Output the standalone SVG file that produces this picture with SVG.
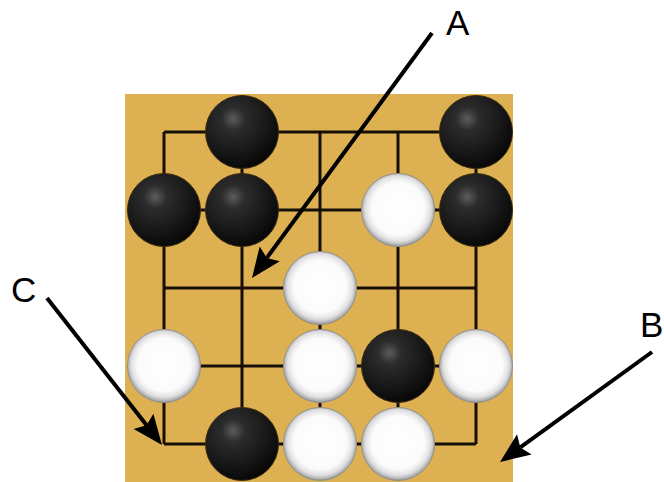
<svg xmlns="http://www.w3.org/2000/svg" width="664" height="482" viewBox="0 0 664 482">
<defs>
<radialGradient id="gb" cx="0.38" cy="0.32" r="0.72">
<stop offset="0" stop-color="#5c5c5c"/>
<stop offset="0.22" stop-color="#2c2c2c"/>
<stop offset="1" stop-color="#060606"/>
</radialGradient>
<radialGradient id="gw" cx="0.5" cy="0.48" r="0.52">
<stop offset="0" stop-color="#ffffff"/>
<stop offset="0.7" stop-color="#fbfbfc"/>
<stop offset="0.86" stop-color="#e0e0e2"/>
<stop offset="0.95" stop-color="#b4b4b4"/>
<stop offset="1" stop-color="#8e8e8e"/>
</radialGradient>
<style>
.grid{stroke:#150f05;stroke-width:3;fill:none}
.b{fill:url(#gb);stroke:#3a2a10;stroke-width:1}
.w{fill:url(#gw);stroke:#909090;stroke-width:1}
.arr{stroke:#000;stroke-width:4;fill:none}
.head{fill:#000;stroke:none}
.lbl{font-family:"Liberation Sans",Arial,sans-serif;font-size:35px;fill:#000}
</style>
</defs>
<rect x="0" y="0" width="664" height="482" fill="#fff"/>
<g id="board">
<rect x="125" y="94" width="388" height="388" fill="#DDB052"/>
<path class="grid" d="M164,132H476M164,210H476M164,288H476M164,366H476M164,444H476M164,132V444M242,132V444M320,132V444M398,132V444M476,132V444"/>
</g>
<g id="stones">
<g id="s-b-2-1"><circle class="b" cx="242" cy="132" r="36.5"/></g>
<g id="s-b-5-1"><circle class="b" cx="476" cy="132" r="36.5"/></g>
<g id="s-b-1-2"><circle class="b" cx="164" cy="210" r="36.5"/></g>
<g id="s-b-2-2"><circle class="b" cx="242" cy="210" r="36.5"/></g>
<g id="s-w-4-2"><circle class="w" cx="398" cy="210" r="36.5"/></g>
<g id="s-b-5-2"><circle class="b" cx="476" cy="210" r="36.5"/></g>
<g id="s-w-3-3"><circle class="w" cx="320" cy="288" r="36.5"/></g>
<g id="s-w-1-4"><circle class="w" cx="164" cy="366" r="36.5"/></g>
<g id="s-w-3-4"><circle class="w" cx="320" cy="366" r="36.5"/></g>
<g id="s-b-4-4"><circle class="b" cx="398" cy="366" r="36.5"/></g>
<g id="s-w-5-4"><circle class="w" cx="476" cy="366" r="36.5"/></g>
<g id="s-b-2-5"><circle class="b" cx="242" cy="444" r="36.5"/></g>
<g id="s-w-3-5"><circle class="w" cx="320" cy="444" r="36.5"/></g>
<g id="s-w-4-5"><circle class="w" cx="398" cy="444" r="36.5"/></g>
</g>
<g id="labels">
<g id="label-A"><text class="lbl" x="446" y="35">A</text></g>
<g id="label-B"><text class="lbl" x="640" y="337">B</text></g>
<g id="label-C"><text class="lbl" x="11" y="302">C</text></g>
</g>
<g id="connectors">
<line class="arr" x1="432" y1="33" x2="266.8" y2="257.9"/>
<polygon class="head" points="252,278 279.9,261.2 266.8,257.9 259.7,246.4"/>
<line class="arr" x1="652" y1="352" x2="520.3" y2="447.4"/>
<polygon class="head" points="500,462 531.6,454.5 520.3,447.4 517,434.3"/>
<line class="arr" x1="47" y1="298" x2="146.6" y2="425.3"/>
<polygon class="head" points="162,445 153.4,413.7 146.6,425.3 133.7,429.1"/>
</g>
</svg>
